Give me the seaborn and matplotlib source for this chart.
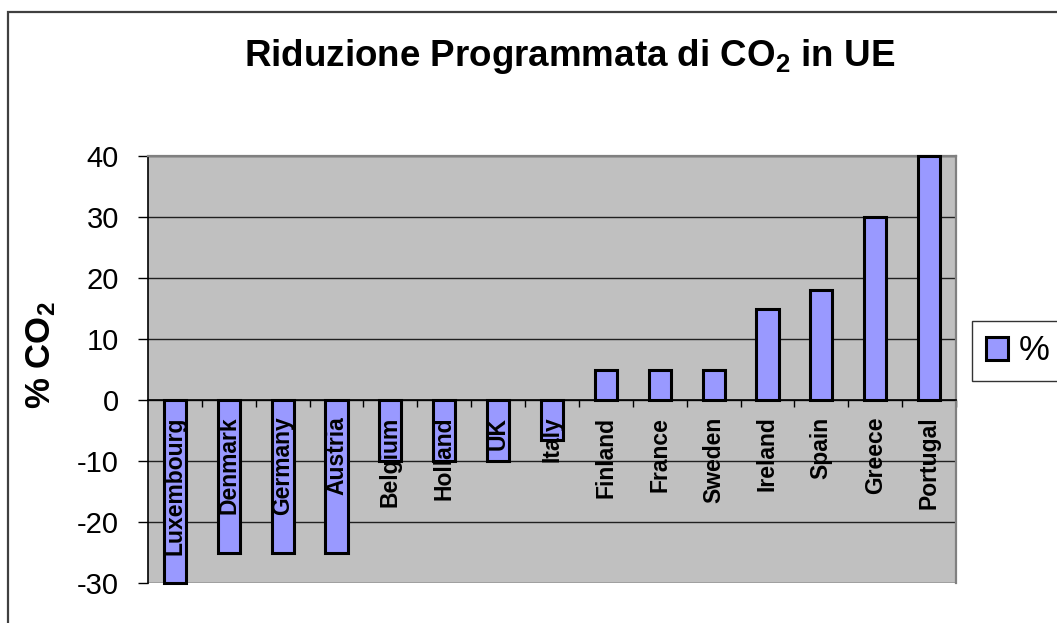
"""
Riduzione programmata di CO2 in UE - bar chart in old Excel style.
"""

import matplotlib
matplotlib.use("Agg")
import matplotlib.pyplot as plt
from matplotlib.patches import Rectangle, Patch
import pandas as pd
import seaborn as sns

# Data
countries = ["Luxembourg", "Denmark", "Germany", "Austria", "Belgium",
             "Holland", "UK", "Italy", "Finland", "France", "Sweden",
             "Ireland", "Spain", "Greece", "Portugal"]
reduction = [-30, -25, -25, -25, -10, -10, -10, -6.5, 5, 5, 5, 15, 18, 30, 40]
y_ticks = [-30, -20, -10, 0, 10, 20, 30, 40]

title = "Riduzione Programmata di CO$_2$ in UE"
y_label = "% CO$_2$"
legend_label = "%"

BAR_COLOR = "#9999FF"
PLOT_BG = "#C0C0C0"


def main():
    sns.set_style("white")
    plt.rcParams["font.family"] = ["Liberation Sans", "DejaVu Sans"]
    plt.rcParams["mathtext.fontset"] = "custom"
    plt.rcParams["mathtext.rm"] = "Liberation Sans:bold"
    plt.rcParams["mathtext.default"] = "rm"
    plt.rcParams["axes.unicode_minus"] = False
    for key in ["text.color", "axes.labelcolor", "xtick.color", "ytick.color"]:
        plt.rcParams[key] = "black"

    W, H = 1057, 623
    fig = plt.figure(figsize=(W / 100, H / 100), dpi=100)
    ax = fig.add_axes([148 / W, 1 - 583 / H, (956 - 148) / W, (583 - 156) / H])
    ax.set_facecolor(PLOT_BG)

    df = pd.DataFrame({"country": countries, "value": reduction})
    sns.barplot(data=df, x="country", y="value", color=BAR_COLOR,
                saturation=1, width=0.41, edgecolor="black", linewidth=2.2,
                ax=ax, zorder=3)
    for bar in ax.patches:
        bar.set_clip_on(False)

    # y axis
    ax.set_ylim(-30, 40)
    ax.set_yticks(y_ticks)
    ax.yaxis.grid(True, color="#202020", linewidth=1.0, zorder=0)
    ax.set_axisbelow(True)
    ax.tick_params(axis="y", direction="out", length=7, width=1,
                   pad=14, labelsize=21, left=True, color="black",
                   labelcolor="black")
    ax.set_ylabel("")

    # x axis sits on zero, ticks between categories
    ax.set_xlim(-0.5, len(countries) - 0.5)
    ax.spines["bottom"].set_position(("data", 0))
    ax.spines["bottom"].set_color("black")
    ax.spines["bottom"].set_linewidth(1.2)
    ax.spines["bottom"].set_zorder(4)
    ax.set_xticks(range(len(countries)))
    ax.set_xticklabels([])
    ax.tick_params(axis="x", which="major", length=0)
    ax.set_xticks([i + 0.5 for i in range(len(countries))], minor=True)
    ax.tick_params(axis="x", which="minor", direction="out", length=5,
                   width=1, color="black", bottom=True)
    ax.set_xlabel("")

    ax.spines["left"].set_color("black")
    ax.spines["left"].set_linewidth(1.2)
    for side in ["top", "right"]:
        ax.spines[side].set_color("#808080")
        ax.spines[side].set_linewidth(1.6)

    # category labels just below the zero line
    for i, name in enumerate(countries):
        ax.annotate(name, xy=(i, 0), xytext=(0, -12),
                    textcoords="offset points", rotation=90,
                    ha="center", va="top", fontsize=16.5,
                    fontweight="bold", color="black", zorder=6)

    # titles
    fig.text(570 / W, 1 - 56 / H, title, ha="center", va="center",
             fontsize=26.5, fontweight="bold", color="black")
    fig.text(41 / W, 1 - 355 / H, y_label, ha="center", va="center",
             rotation=90, fontsize=25, fontweight="bold", color="black")

    # legend
    handle = Patch(facecolor=BAR_COLOR, edgecolor="black", linewidth=2.2)
    leg = fig.legend([handle], [legend_label], loc="center left",
                     bbox_to_anchor=(972 / W, 1 - 351 / H), fontsize=25,
                     frameon=True, fancybox=False, handlelength=0.65,
                     handleheight=0.65, handletextpad=0.3, borderpad=0.4,
                     borderaxespad=0, labelcolor="black")
    leg.get_frame().set_edgecolor("black")
    leg.get_frame().set_linewidth(1.0)

    # outer chart border, cropped by the image edge
    fig.patches.append(Rectangle((8 / W, -0.2), 1.5, 1.2 - 12 / H,
                                 transform=fig.transFigure, fill=False,
                                 edgecolor="#404040", linewidth=1.6))

    fig.savefig("out.png", dpi=100, facecolor="white")


if __name__ == "__main__":
    main()
